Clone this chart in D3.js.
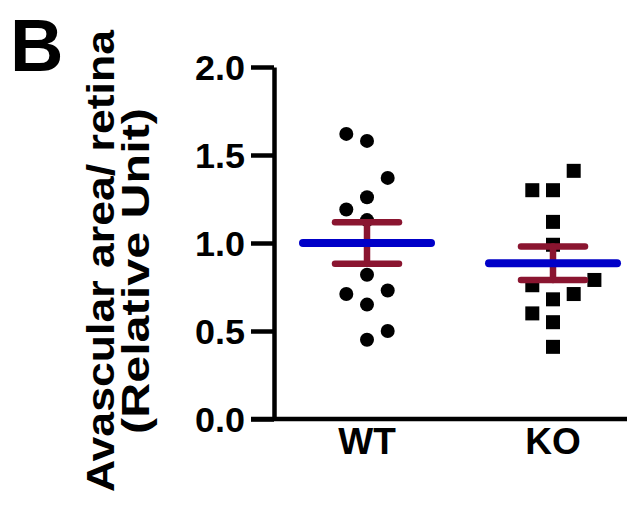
<!DOCTYPE html>
<html>
<head>
<meta charset="utf-8">
<script src="https://cdn.jsdelivr.net/npm/d3@7"></script>
<style>
  html, body { margin: 0; padding: 0; background: #fff; }
  svg { display: block; }
  text { font-family: Arial, "Liberation Sans", Helvetica, sans-serif; font-weight: bold; fill: #000; }
</style>
</head>
<body>
<script>
// ---- data ----
const categories = ["WT", "KO"];
const wtValues = [1.62, 1.58, 1.37, 1.26, 1.19, 1.13, 0.82, 0.71, 0.73, 0.65, 0.50, 0.45];
const wtSlots  = [-1, 0, 1, 0, -1, 0, 0, -1, 1, 0, 1, 0];
const koValues = [1.41, 1.30, 1.30, 1.12, 0.99, 0.79, 0.76, 0.71, 0.68, 0.60, 0.55, 0.41];
const koSlots  = [1, -1, 0, 0, 0, 2, -1, 1, 0, -1, 0, 0];
const means = [1.00, 0.885];
const sems  = [0.118, 0.095];
const yTicks = [0.0, 0.5, 1.0, 1.5, 2.0];
const yTitle = ["Avascular area/ retina", "(Relative Unit)"];
const panelLabel = "B";

// ---- layout ----
const W = 629, H = 508;
const svg = d3.select("body").append("svg").attr("width", W).attr("height", H);

const y = d3.scaleLinear().domain([0, 2]).range([419, 67]);
const x = d3.scalePoint().domain(categories).range([367, 553]);
const axisX = 274;
const slotW = 20.7;

// panel label
svg.append("text").attr("x", 10).attr("y", 71)
  .style("font-size", "74px").text(panelLabel);

// y title (rotated)
const titleG = svg.append("g");
titleG.append("text")
  .attr("transform", "translate(114,261) rotate(-90)")
  .attr("text-anchor", "middle")
  .attr("textLength", 462).attr("lengthAdjust", "spacingAndGlyphs")
  .style("font-size", "39px").text(yTitle[0]);
titleG.append("text")
  .attr("transform", "translate(149,271) rotate(-90)")
  .attr("text-anchor", "middle")
  .attr("textLength", 326).attr("lengthAdjust", "spacingAndGlyphs")
  .style("font-size", "39px").text(yTitle[1]);

// y axis
const yAxis = d3.axisLeft(y).tickValues(yTicks).tickFormat(d3.format(".1f"))
  .tickSize(23).tickSizeOuter(0).tickPadding(6);
const gy = svg.append("g").attr("transform", `translate(${axisX},0)`).call(yAxis);
gy.selectAll("path.domain, line").attr("stroke", "#000").attr("stroke-width", 4.5);
gy.selectAll("text").style("font-size", "35px")
  .attr("textLength", 50).attr("lengthAdjust", "spacingAndGlyphs")
  .attr("dy", "0.36em");

// x axis line
svg.append("line")
  .attr("x1", axisX - 23).attr("x2", 627)
  .attr("y1", y(0)).attr("y2", y(0))
  .attr("stroke", "#000").attr("stroke-width", 4.5);

// x labels
svg.append("g").selectAll("text").data(categories).join("text")
  .attr("x", d => x(d)).attr("y", 454)
  .attr("text-anchor", "middle")
  .style("font-size", "37px").text(d => d);

// WT points (circles)
svg.append("g").selectAll("circle").data(wtValues).join("circle")
  .attr("cx", (d, i) => x("WT") + wtSlots[i] * slotW)
  .attr("cy", d => y(d))
  .attr("r", 7).attr("fill", "#000");

// KO points (squares)
const sq = 14;
svg.append("g").selectAll("rect").data(koValues).join("rect")
  .attr("x", (d, i) => x("KO") + koSlots[i] * slotW - sq / 2)
  .attr("y", d => y(d) - sq / 2)
  .attr("width", sq).attr("height", sq).attr("fill", "#000");

// error bars (mean ± SEM)
const errColor = "#8a1530";
const eg = svg.append("g").attr("stroke", errColor).attr("stroke-width", 6.5).attr("stroke-linecap", "round");
categories.forEach((c, i) => {
  const cx = x(c);
  eg.append("line").attr("x1", cx).attr("x2", cx)
    .attr("y1", y(means[i] + sems[i])).attr("y2", y(means[i] - sems[i]));
  [means[i] + sems[i], means[i] - sems[i]].forEach(v => {
    eg.append("line").attr("x1", cx - 32).attr("x2", cx + 32)
      .attr("y1", y(v)).attr("y2", y(v));
  });
});

// mean lines
svg.append("g").selectAll("line").data(categories).join("line")
  .attr("x1", d => x(d) - 64).attr("x2", d => x(d) + 64)
  .attr("y1", (d, i) => y(means[i])).attr("y2", (d, i) => y(means[i]))
  .attr("stroke", "#0000c8").attr("stroke-width", 8).attr("stroke-linecap", "round");
</script>
</body>
</html>
